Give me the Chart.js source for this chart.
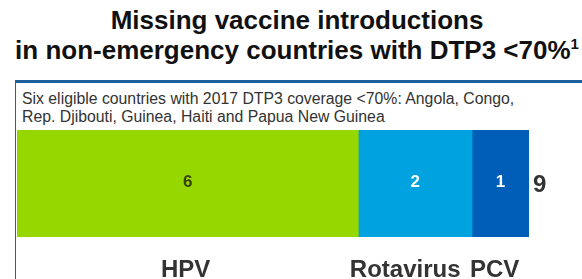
<!DOCTYPE html>
<html>
<head>
<meta charset="utf-8">
<script src="https://cdn.jsdelivr.net/npm/chart.js@4"></script>
<style>
  html, body { margin: 0; padding: 0; background: #fff; }
  body { width: 582px; height: 279px; position: relative; overflow: hidden; font-family: "Liberation Sans", Arial, sans-serif; }
  .title { position: absolute; left: 0; top: 5px; width: 594px; text-align: center; font-weight: bold; font-size: 26px; line-height: 30px; color: #111; }
  .title sup { font-size: 15px; vertical-align: 10px; line-height: 0; }
  .rule { position: absolute; left: 15px; top: 80px; width: 567px; height: 3px; background: #1f5f9c; }
  .side { position: absolute; left: 15px; top: 82px; width: 1px; height: 197px; background: #555; }
  .note { position: absolute; left: 22px; top: 90px; font-size: 15.8px; line-height: 18px; color: #333; }
  #chartBox { position: absolute; left: 0; top: 0; width: 582px; height: 279px; }
</style>
</head>
<body>
<div class="title">Missing vaccine introductions<br>in non-emergency countries with DTP3 &lt;70%<sup>1</sup></div>
<div class="rule"></div>
<div class="side"></div>
<div class="note">Six eligible countries with 2017 DTP3 coverage &lt;70%: Angola, Congo,<br>Rep. Djibouti, Guinea, Haiti and Papua New Guinea</div>
<div id="chartBox"><canvas id="chart"></canvas></div>
<script>
// data kategori vaksin yang belum diperkenalkan
const categories = ['HPV', 'Rotavirus', 'PCV'];
const missingCounts = [6, 2, 1];
const rowLabels = ['Missing introductions'];
const segmentColors = ['#97d700', '#00a3e0', '#005eb8'];
const valueColors = ['#364300', '#ffffff', '#ffffff'];
// geser sedikit nama vaksin supaya tidak bertabrakan
const labelNudge = [-2, -10, -6];

const totalMissing = missingCounts.reduce((a, b) => a + b, 0);

// plugin untuk angka di dalam batang, total di kanan, dan nama vaksin di bawah
const segmentLabels = {
    id: 'segmentLabels',
    afterDatasetsDraw(chart) {
        const ctx = chart.ctx;
        const area = chart.chartArea;
        ctx.save();
        ctx.textAlign = 'center';
        chart.data.datasets.forEach((ds, i) => {
            const bar = chart.getDatasetMeta(i).data[0];
            const cx = (bar.x + bar.base) / 2;
            ctx.textBaseline = 'middle';
            ctx.font = 'bold 17px "Liberation Sans", Arial, sans-serif';
            ctx.fillStyle = valueColors[i];
            ctx.fillText(ds.data[0], cx, bar.y - 1);

            ctx.textBaseline = 'alphabetic';
            ctx.font = 'bold 24px "Liberation Sans", Arial, sans-serif';
            ctx.fillStyle = '#333';
            ctx.fillText(categories[i], cx + labelNudge[i], area.bottom + 40);
        });
        const last = chart.getDatasetMeta(chart.data.datasets.length - 1).data[0];
        ctx.textAlign = 'left';
        ctx.textBaseline = 'middle';
        ctx.font = 'bold 24px "Liberation Sans", Arial, sans-serif';
        ctx.fillStyle = '#333';
        ctx.fillText(totalMissing, last.x + 4, last.y + 2);
        ctx.restore();
    }
};

new Chart(document.getElementById('chart'), {
    type: 'bar',
    data: {
        labels: rowLabels,
        datasets: categories.map((c, i) => ({
            label: c,
            data: [missingCounts[i]],
            backgroundColor: segmentColors[i],
            borderWidth: 0,
            categoryPercentage: 1,
            barPercentage: 1
        }))
    },
    options: {
        indexAxis: 'y',
        responsive: true,
        maintainAspectRatio: false,
        animation: false,
        layout: { padding: { left: 17, right: 53, top: 130, bottom: 42 } },
        plugins: {
            legend: { display: false },
            tooltip: { enabled: false }
        },
        scales: {
            x: { stacked: true, min: 0, max: totalMissing, display: false },
            y: { stacked: true, display: false }
        }
    },
    plugins: [segmentLabels]
});
</script>
</body>
</html>
